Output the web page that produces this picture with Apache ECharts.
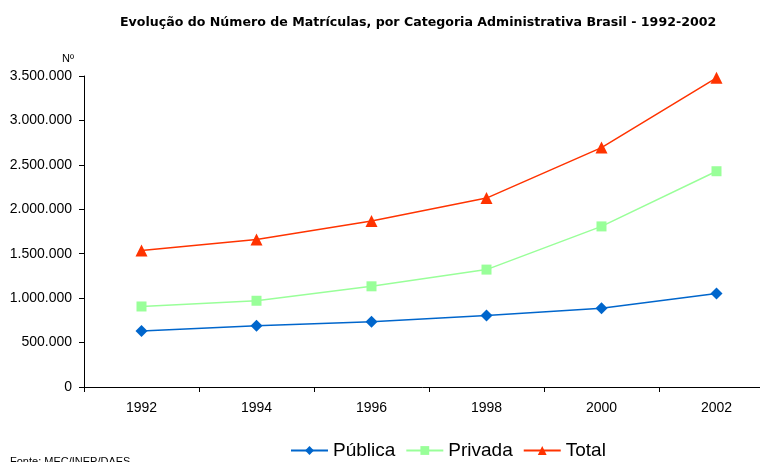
<!DOCTYPE html>
<html><head><meta charset="utf-8">
<script src="https://cdn.jsdelivr.net/npm/echarts@6/dist/echarts.min.js"></script>
<style>html,body{margin:0;padding:0;background:#fff}#c{width:760px;height:462px}</style>
</head><body><div id="c"></div>
<script>
const categories = ['1992','1994','1996','1998','2000','2002'];
const publica = [629662, 690450, 735427, 804729, 887026, 1051655];
const privada = [906126, 970584, 1133102, 1321229, 1807219, 2428258];
const total = [1535788, 1661034, 1868529, 2125958, 2694245, 3479913];
const yTicks = [0, 500000, 1000000, 1500000, 2000000, 2500000, 3000000, 3500000];

const font = 'Liberation Sans, Arial, sans-serif';
function fmt(v){ return String(v).replace(/\B(?=(\d{3})+(?!\d))/g, '.'); }

const chart = echarts.init(document.getElementById('c'), null, {renderer:'canvas'});
chart.setOption({
  animation:false,
  textStyle:{fontFamily:font},
  title:{text:'Evolução do Número de Matrículas, por Categoria Administrativa Brasil - 1992-2002',
    left:115, top:11, textStyle:{fontSize:12.6, fontWeight:'bold', color:'#000', fontFamily:'DejaVu Sans'}},
  graphic:[
    {type:'text', left:62, top:53, style:{text:'Nº', font:'11px '+font, fill:'#000'}},
    {type:'text', left:10, top:456, style:{text:'Fonte: MEC/INEP/DAES', font:'11px '+font, fill:'#000'}}
  ],
  legend:{left:285, top:436, itemWidth:37, itemHeight:11, itemGap:10,
    textStyle:{fontSize:19, color:'#000', fontFamily:font},
    data:['Pública','Privada','Total']},
  grid:{left:84, top:76, bottom:75, width:690, containLabel:false, outerBoundsMode:'none'},
  xAxis:{type:'category', data:categories, boundaryGap:true,
    axisLine:{lineStyle:{color:'#000', width:1}},
    axisTick:{show:true, length:5, lineStyle:{color:'#000'}},
    axisLabel:{fontSize:14, color:'#000', margin:14, fontFamily:font}},
  yAxis:{type:'value', min:yTicks[0], max:yTicks[yTicks.length-1], interval:yTicks[1]-yTicks[0],
    axisLine:{show:true, lineStyle:{color:'#000'}},
    axisTick:{show:true, length:5, lineStyle:{color:'#000'}},
    splitLine:{show:false},
    axisLabel:{fontSize:14, color:'#000', margin:12, formatter:fmt, fontFamily:font}},
  series:[
    {name:'Pública', type:'line', data:publica, symbol:'diamond', symbolSize:12,
      lineStyle:{color:'#0066CC', width:1.5}, itemStyle:{color:'#0066CC'}},
    {name:'Privada', type:'line', data:privada, symbol:'rect', symbolSize:10,
      lineStyle:{color:'#99FF99', width:1.5}, itemStyle:{color:'#99FF99'}},
    {name:'Total', type:'line', data:total, symbol:'triangle', symbolSize:12,
      lineStyle:{color:'#FF3300', width:1.5}, itemStyle:{color:'#FF3300'}}
  ]
});
</script></body></html>
